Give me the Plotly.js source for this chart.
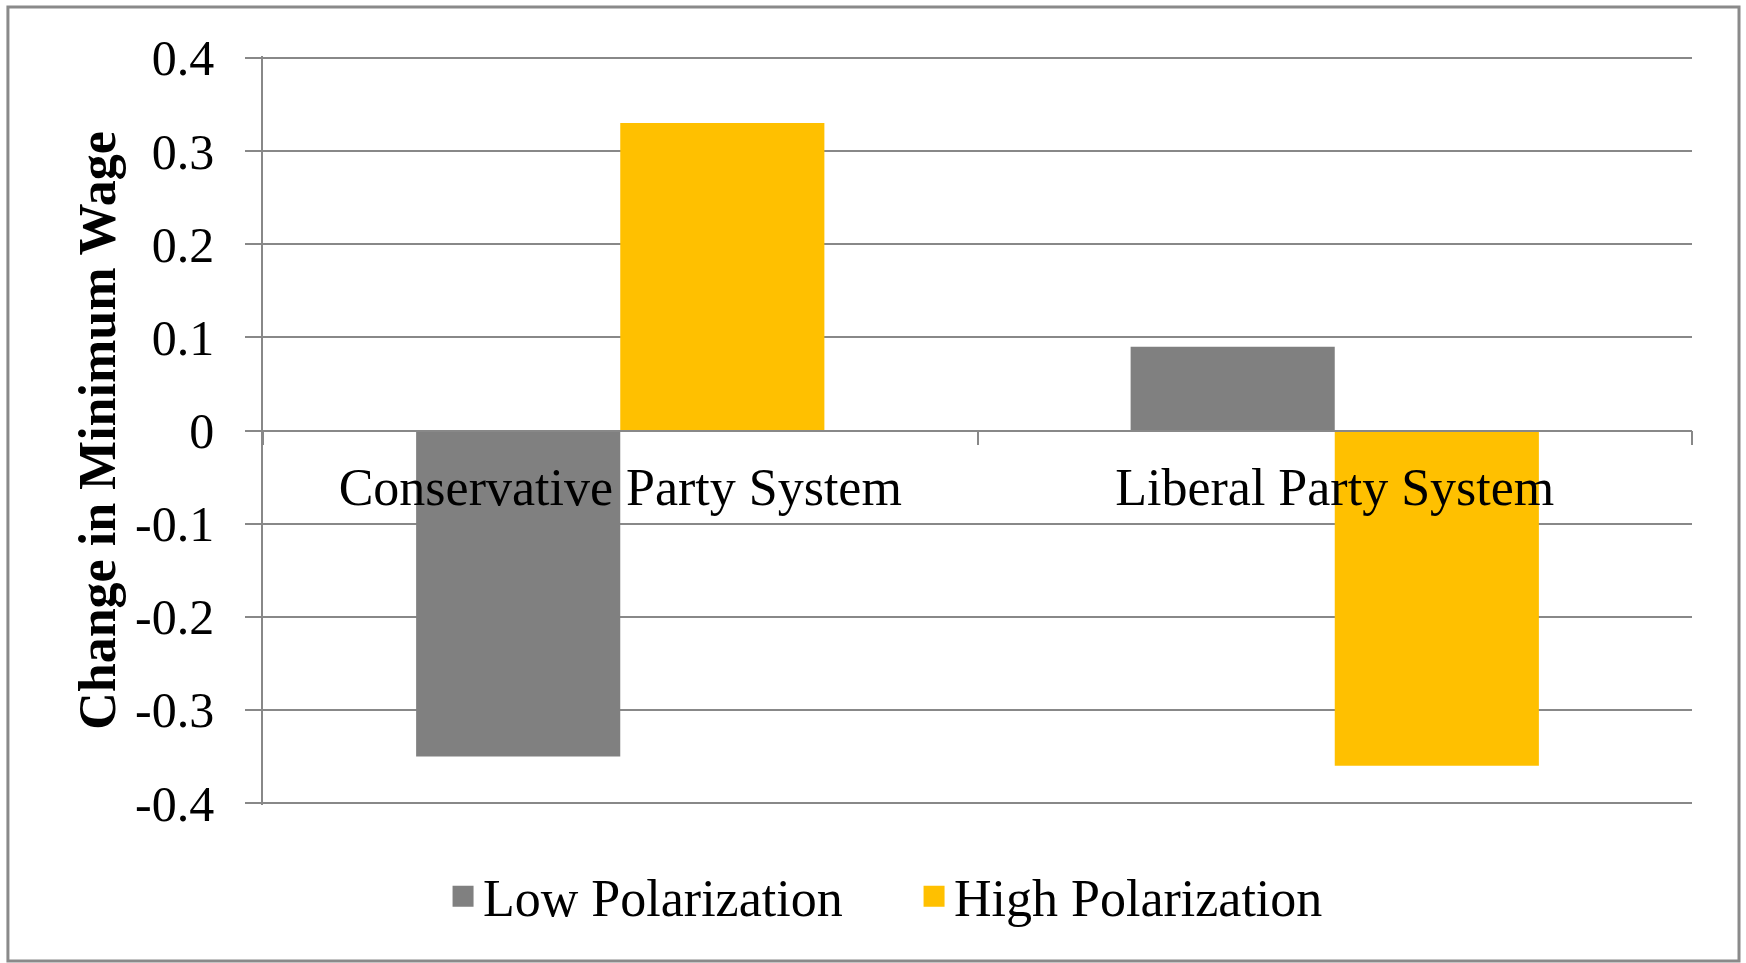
<!DOCTYPE html>
<html>
<head>
<meta charset="utf-8">
<script src="https://cdn.plot.ly/plotly-3.0.1.min.js"></script>
<style>
  html, body { margin: 0; padding: 0; background: #ffffff; }
  #chart { width: 1746px; height: 963px; }
</style>
</head>
<body>
<div id="chart"></div>
<script>
// Minimum wage change by party system and polarization level
const categories = ['Conservative Party System', 'Liberal Party System'];
const lowPolarization = [-0.35, 0.09];
const highPolarization = [0.33, -0.36];
const seriesNames = ['Low Polarization', 'High Polarization'];
const seriesColors = ['#808080', '#FFC000'];
const tickValues = [0.4, 0.3, 0.2, 0.1, 0, -0.1, -0.2, -0.3, -0.4];
const tickLabels = ['0.4', '0.3', '0.2', '0.1', '0', '-0.1', '-0.2', '-0.3', '-0.4'];
const yTitle = 'Change in Minimum Wage';

const FONT = '"Liberation Serif", "Times New Roman", serif';
const AXIS_GREY = '#888888';

const seriesValues = [lowPolarization, highPolarization];

const traces = [];
seriesValues.forEach((vals, i) => {
  traces.push({
    type: 'bar',
    x: categories,
    y: vals,
    name: seriesNames[i],
    legendgroup: seriesNames[i],
    showlegend: false,
    marker: { color: seriesColors[i], line: { width: 0 } },
    hoverinfo: 'x+y+name'
  });
});
// legend keys (square swatches)
seriesValues.forEach((vals, i) => {
  traces.push({
    type: 'scatter',
    mode: 'markers',
    x: [null],
    y: [null],
    name: seriesNames[i],
    legendgroup: seriesNames[i],
    showlegend: true,
    marker: { symbol: 'square', size: 16, color: seriesColors[i],
              line: { color: seriesColors[i], width: 5 } },
    hoverinfo: 'skip'
  });
});

// range padded slightly so the gridlines at ±0.4 are kept
const Y_LIMIT = 0.402;

const layout = {
  width: 1746,
  height: 963,
  paper_bgcolor: '#ffffff',
  plot_bgcolor: '#ffffff',
  font: { family: FONT, color: '#000000', size: 50 },
  margin: { l: 263, r: 54, t: 56, b: 158, pad: 0 },
  barmode: 'group',
  bargap: 0.4286,
  bargroupgap: 0,
  showlegend: true,
  legend: {
    orientation: 'h',
    x: 0.126,
    xanchor: 'left',
    y: -0.122,
    yanchor: 'middle',
    font: { family: FONT, size: 52, color: '#000000' },
    entrywidth: 426,
    entrywidthmode: 'pixels',
    bgcolor: 'rgba(0,0,0,0)',
    borderwidth: 0
  },
  xaxis: {
    type: 'category',
    range: [-0.5, 1.5],
    anchor: 'free',
    position: 0.5,
    showline: true,
    linecolor: AXIS_GREY,
    linewidth: 1.5,
    ticks: 'outside',
    tickson: 'boundaries',
    ticklen: 14,
    tickwidth: 1.5,
    tickcolor: AXIS_GREY,
    ticklabelstandoff: 11,
    showgrid: false,
    zeroline: false,
    tickfont: { family: FONT, size: 52, color: '#000000' },
    fixedrange: true
  },
  yaxis: {
    range: [-Y_LIMIT, Y_LIMIT],
    tickmode: 'array',
    tickvals: tickValues,
    ticktext: tickLabels,
    ticks: 'outside',
    ticklen: 16,
    tickwidth: 1.5,
    tickcolor: AXIS_GREY,
    showline: true,
    linecolor: AXIS_GREY,
    linewidth: 1.5,
    showgrid: true,
    gridcolor: AXIS_GREY,
    gridwidth: 1.5,
    zeroline: false,
    ticklabelstandoff: 21,
    tickfont: { family: FONT, size: 50, color: '#000000' },
    title: {
      text: yTitle,
      font: { family: FONT, size: 52, color: '#000000', weight: 'bold' },
      standoff: 3
    },
    fixedrange: true
  },
  shapes: [{
    type: 'rect',
    xref: 'paper', yref: 'paper',
    x0: -0.1785, x1: 1.0329,
    y0: -0.2083, y1: 1.0654,
    line: { color: '#8a8a8a', width: 3 },
    fillcolor: 'rgba(0,0,0,0)',
    layer: 'below'
  }]
};

Plotly.newPlot('chart', traces, layout, { displayModeBar: false, responsive: false });
</script>
</body>
</html>
